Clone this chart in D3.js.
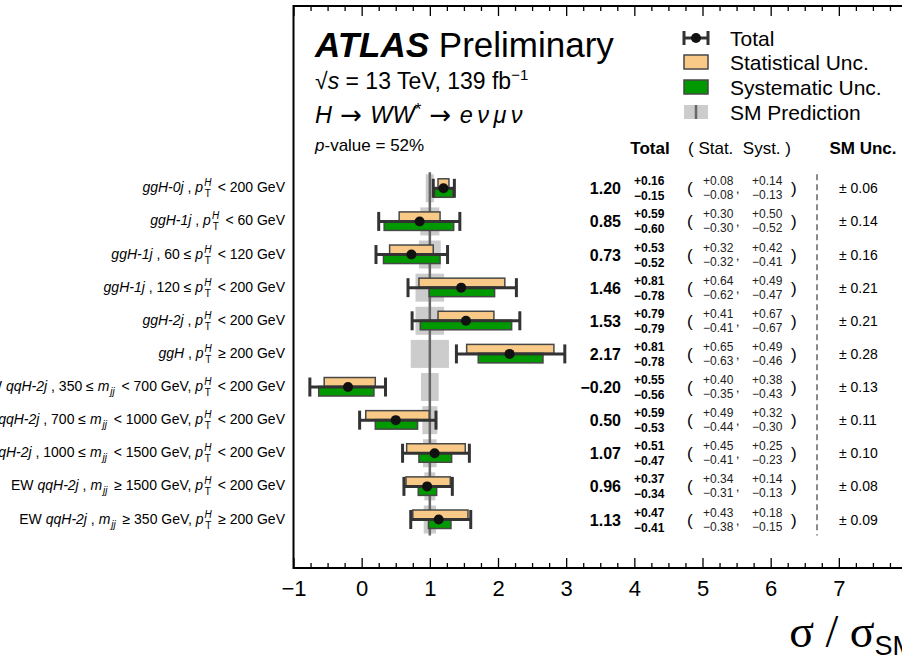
<!DOCTYPE html>
<html>
<head>
<meta charset="utf-8">
<script src="https://cdn.jsdelivr.net/npm/d3@7"></script>
<style>
  html, body { margin: 0; padding: 0; background: #fff; }
  svg { display: block; font-family: "Liberation Sans", Arial, Helvetica, sans-serif; }
</style>
</head>
<body>
<svg id="chart" width="902" height="660"></svg>
<script>
// Production-mode cross sections normalised to the SM, H -> WW* -> e nu mu nu
// Label markup: *...* italic, {pTH} = p_T^H, {mjj} = m_jj
const categories = [
  "*ggH-0j* , {pTH} < 200 GeV",
  "*ggH-1j* , {pTH} < 60 GeV",
  "*ggH-1j* , 60 ≤ {pTH} < 120 GeV",
  "*ggH-1j* , 120 ≤ {pTH} < 200 GeV",
  "*ggH-2j* , {pTH} < 200 GeV",
  "*ggH* , {pTH} ≥ 200 GeV",
  "EW *qqH-2j* , 350 ≤ {mjj} < 700 GeV, {pTH} < 200 GeV",
  "EW *qqH-2j* , 700 ≤ {mjj} < 1000 GeV, {pTH} < 200 GeV",
  "EW *qqH-2j* , 1000 ≤ {mjj} < 1500 GeV, {pTH} < 200 GeV",
  "EW *qqH-2j* , {mjj} ≥ 1500 GeV, {pTH} < 200 GeV",
  "EW *qqH-2j* , {mjj} ≥ 350 GeV, {pTH} ≥ 200 GeV"
];
const values = [1.20, 0.85, 0.73, 1.46, 1.53, 2.17, -0.20, 0.50, 1.07, 0.96, 1.13];
const totUp  = [0.16, 0.59, 0.53, 0.81, 0.79, 0.81, 0.55, 0.59, 0.51, 0.37, 0.47];
const totDn  = [0.15, 0.60, 0.52, 0.78, 0.79, 0.78, 0.56, 0.53, 0.47, 0.34, 0.41];
const statUp = [0.08, 0.30, 0.32, 0.64, 0.41, 0.65, 0.40, 0.49, 0.45, 0.34, 0.43];
const statDn = [0.08, 0.30, 0.32, 0.62, 0.41, 0.63, 0.35, 0.44, 0.41, 0.31, 0.38];
const systUp = [0.14, 0.50, 0.42, 0.49, 0.67, 0.49, 0.38, 0.32, 0.25, 0.14, 0.18];
const systDn = [0.13, 0.52, 0.41, 0.47, 0.67, 0.46, 0.43, 0.30, 0.23, 0.13, 0.15];
const smUnc  = [0.06, 0.14, 0.16, 0.21, 0.21, 0.28, 0.13, 0.11, 0.10, 0.08, 0.09];
const xTicks = [-1, 0, 1, 2, 3, 4, 5, 6, 7, 8];
const legendItems = ["Total", "Statistical Unc.", "Systematic Unc.", "SM Prediction"];

const svg = d3.select("#chart");
const frame = { left: 293.5, right: 907, top: 6, bottom: 568 };

const x = d3.scaleLinear().domain([-1, 8]).range([frame.left, frame.right]);
const y = d3.scalePoint().domain(d3.range(categories.length)).range([188.3, 519.5]);

const C = {
  stat: "#f9c987", syst: "#009900", sm: "#cccccc", smLine: "#666666",
  bar: "#333333", edge: "#474747", dot: "#111111"
};
const f2 = d3.format(".2f");

// ---------- frame and axes ----------
svg.append("rect")
  .attr("x", frame.left).attr("y", frame.top)
  .attr("width", frame.right - frame.left).attr("height", frame.bottom - frame.top)
  .attr("fill", "none").attr("stroke", "#000").attr("stroke-width", 2);

const minorVals = d3.range(-1, 8.001, 0.25).filter(v => Math.abs(v - Math.round(v)) > 1e-6);

const xAxis = d3.axisBottom(x).tickValues(xTicks).tickSizeInner(-10).tickSizeOuter(0)
  .tickPadding(12).tickFormat(d3.format("d"));
const gx = svg.append("g").attr("transform", `translate(0,${frame.bottom})`).call(xAxis);
gx.select(".domain").remove();
gx.selectAll("line").attr("stroke", "#000").attr("stroke-width", 1.3);
gx.selectAll("text").attr("font-size", 22).attr("fill", "#000")
  .attr("font-family", "Liberation Sans, Arial, sans-serif");

const gxMinor = svg.append("g").attr("transform", `translate(0,${frame.bottom})`)
  .call(d3.axisBottom(x).tickValues(minorVals).tickSizeInner(-5).tickSizeOuter(0).tickFormat(""));
gxMinor.select(".domain").remove();
gxMinor.selectAll("line").attr("stroke", "#000").attr("stroke-width", 1.3);

const gTop = svg.append("g").attr("transform", `translate(0,${frame.top})`)
  .call(d3.axisTop(x).tickValues(xTicks).tickSizeInner(-10).tickSizeOuter(0).tickFormat(""));
gTop.select(".domain").remove();
gTop.selectAll("line").attr("stroke", "#000").attr("stroke-width", 1.3);
const gTopMinor = svg.append("g").attr("transform", `translate(0,${frame.top})`)
  .call(d3.axisTop(x).tickValues(minorVals).tickSizeInner(-5).tickSizeOuter(0).tickFormat(""));
gTopMinor.select(".domain").remove();
gTopMinor.selectAll("line").attr("stroke", "#000").attr("stroke-width", 1.3);

// axis title  sigma / sigma_SM
const title = svg.append("text").attr("x", 915).attr("y", 647)
  .attr("text-anchor", "end").attr("fill", "#000").attr("xml:space", "preserve");
title.append("tspan").attr("font-family", "Liberation Serif, Times New Roman, serif")
  .attr("font-size", 46).text("σ / σ");
title.append("tspan").attr("font-size", 27).attr("dy", 8).text("SM");

// ---------- rich text for category labels ----------
function richLabel(textSel, markup, size) {
  const sub = Math.round(size * 0.72);
  const parts = markup.split(/(\*[^*]+\*|\{pTH\}|\{mjj\})/).filter(s => s.length);
  parts.forEach(p => {
    if (p.startsWith("*")) {
      textSel.append("tspan").attr("font-style", "italic").text(p.slice(1, -1));
    } else if (p === "{pTH}") {
      textSel.append("tspan").attr("font-style", "italic").text("p");
      textSel.append("tspan").attr("font-style", "italic").attr("font-size", sub)
        .attr("dx", 1).attr("dy", -6).text("H");
      textSel.append("tspan").attr("font-size", sub).attr("dx", -6.5)
        .attr("dy", 11).text("T");
      textSel.append("tspan").attr("dy", -5).text("\u2009");
    } else if (p === "{mjj}") {
      textSel.append("tspan").attr("font-style", "italic").text("m");
      textSel.append("tspan").attr("font-style", "italic").attr("font-size", sub)
        .attr("dx", 1).attr("dy", 4).text("jj");
      textSel.append("tspan").attr("dy", -4).text("\u2009");
    } else {
      textSel.append("tspan").text(p);
    }
  });
}

const labels = svg.append("g");
categories.forEach((c, i) => {
  const t = labels.append("text").attr("x", 285).attr("y", y(i) + 4)
    .attr("text-anchor", "end").attr("font-size", 14).attr("fill", "#000")
    .attr("xml:space", "preserve");
  richLabel(t, c, 14);
});

// ---------- SM prediction band ----------
const idx = d3.range(categories.length);
svg.append("g").selectAll("rect").data(idx).join("rect")
  .attr("x", i => x(1 - smUnc[i])).attr("width", i => x(1 + smUnc[i]) - x(1 - smUnc[i]))
  .attr("y", i => y(i) - 14).attr("height", 28).attr("fill", C.sm);
svg.append("line")
  .attr("x1", x(1)).attr("x2", x(1))
  .attr("y1", y(0) - 16).attr("y2", y(categories.length - 1) + 16)
  .attr("stroke", C.smLine).attr("stroke-width", 2.5);

// ---------- measurement marks ----------
const marks = svg.append("g");
marks.selectAll("rect.stat").data(idx).join("rect").attr("class", "stat")
  .attr("x", i => x(values[i] - statDn[i]))
  .attr("width", i => x(values[i] + statUp[i]) - x(values[i] - statDn[i]))
  .attr("y", i => y(i) - 9.5).attr("height", 9)
  .attr("fill", C.stat).attr("stroke", C.edge).attr("stroke-width", 1.5);
marks.selectAll("rect.syst").data(idx).join("rect").attr("class", "syst")
  .attr("x", i => x(values[i] - systDn[i]))
  .attr("width", i => x(values[i] + systUp[i]) - x(values[i] - systDn[i]))
  .attr("y", i => y(i) - 0.5).attr("height", 9.5)
  .attr("fill", C.syst).attr("stroke", C.edge).attr("stroke-width", 1.5);
marks.selectAll("line.tot").data(idx).join("line").attr("class", "tot")
  .attr("x1", i => x(values[i] - totDn[i])).attr("x2", i => x(values[i] + totUp[i]))
  .attr("y1", i => y(i)).attr("y2", i => y(i))
  .attr("stroke", C.bar).attr("stroke-width", 3);
["lo", "hi"].forEach(side => {
  marks.selectAll("line.cap-" + side).data(idx).join("line").attr("class", "cap-" + side)
    .attr("x1", i => side === "lo" ? x(values[i] - totDn[i]) : x(values[i] + totUp[i]))
    .attr("x2", i => side === "lo" ? x(values[i] - totDn[i]) : x(values[i] + totUp[i]))
    .attr("y1", i => y(i) - 9.5).attr("y2", i => y(i) + 9.5)
    .attr("stroke", C.bar).attr("stroke-width", 3);
});
marks.selectAll("circle").data(idx).join("circle")
  .attr("cx", i => x(values[i])).attr("cy", i => y(i)).attr("r", 5).attr("fill", C.dot);

// ---------- numerical table ----------
const hdrY = 154;
svg.append("text").attr("x", 650).attr("y", hdrY).attr("text-anchor", "middle")
  .attr("font-size", 17).attr("font-weight", "bold").text("Total");
svg.append("text").attr("x", 688).attr("y", hdrY).attr("font-size", 17)
  .attr("xml:space", "preserve").text("( Stat.  Syst. )");
svg.append("text").attr("x", 863).attr("y", hdrY).attr("text-anchor", "middle")
  .attr("font-size", 17).attr("font-weight", "bold").text("SM Unc.");

const table = svg.append("g");
idx.forEach(i => {
  const c = y(i);
  table.append("text").attr("x", 621).attr("y", c + 6).attr("text-anchor", "end")
    .attr("font-size", 16).attr("font-weight", "bold").text(f2(values[i]));
  table.append("text").attr("x", 634).attr("y", c - 3).attr("font-size", 12)
    .attr("font-weight", "bold").text("+" + f2(totUp[i]));
  table.append("text").attr("x", 634).attr("y", c + 12).attr("font-size", 12)
    .attr("font-weight", "bold").text("\u2212" + f2(totDn[i]));
  table.append("text").attr("x", 687).attr("y", c + 6).attr("font-size", 17).text("(");
  table.append("text").attr("x", 703).attr("y", c - 3).attr("font-size", 12)
    .attr("fill", "#222").text("+" + f2(statUp[i]));
  table.append("text").attr("x", 703).attr("y", c + 11).attr("font-size", 12)
    .attr("fill", "#222").text("\u2212" + f2(statDn[i]));
  table.append("text").attr("x", 736).attr("y", c + 5).attr("font-size", 12).text(",");
  table.append("text").attr("x", 752).attr("y", c - 3).attr("font-size", 12)
    .attr("fill", "#222").text("+" + f2(systUp[i]));
  table.append("text").attr("x", 752).attr("y", c + 11).attr("font-size", 12)
    .attr("fill", "#222").text("\u2212" + f2(systDn[i]));
  table.append("text").attr("x", 791).attr("y", c + 6).attr("font-size", 17).text(")");
  table.append("text").attr("x", 839).attr("y", c + 5).attr("font-size", 14)
    .text("\u00B1 " + f2(smUnc[i]));
});
svg.append("line").attr("x1", 817).attr("x2", 817)
  .attr("y1", y(0) - 14).attr("y2", y(categories.length - 1) + 16)
  .attr("stroke", "#666").attr("stroke-width", 1.5).attr("stroke-dasharray", "6,4");

// ---------- ATLAS label block ----------
const atlas = svg.append("text").attr("x", 315).attr("y", 57).attr("font-size", 35);
atlas.append("tspan").attr("font-weight", "bold").attr("font-style", "italic").text("ATLAS");
atlas.append("tspan").text(" Preliminary");

const energy = svg.append("text").attr("x", 315).attr("y", 89).attr("font-size", 23);
energy.append("tspan").text("√");
energy.append("tspan").attr("font-style", "italic").text("s");
energy.append("tspan").text(" = 13 TeV, 139 fb");
energy.append("tspan").attr("font-size", 15).attr("dy", -9).text("\u22121");

const decay = svg.append("text").attr("x", 315).attr("y", 123).attr("font-size", 23.5)
  .attr("xml:space", "preserve");
decay.append("tspan").attr("font-style", "italic").text("H");
decay.append("tspan").attr("font-family", "DejaVu Sans, sans-serif").attr("font-size", 26)
  .attr("dy", 1).text(" → ");
decay.append("tspan").attr("font-style", "italic").attr("dy", -1).text("WW");
decay.append("tspan").attr("font-size", 17).attr("dy", -8).text("*");
decay.append("tspan").attr("dy", 9).attr("font-family", "DejaVu Sans, sans-serif")
  .attr("font-size", 26).text(" → ");
decay.append("tspan").attr("font-style", "italic").attr("dy", -1).attr("letter-spacing", 4.5)
  .text("eνμν");

const pval = svg.append("text").attr("x", 315).attr("y", 151).attr("font-size", 17);
pval.append("tspan").attr("font-style", "italic").text("p");
pval.append("tspan").text("-value = 52%");

// ---------- legend ----------
const lg = svg.append("g");
const lgY = [38, 62, 87, 112], lx0 = 684, lx1 = 708, lxm = (lx0 + lx1) / 2;
legendItems.forEach((name, k) => {
  lg.append("text").attr("x", 730).attr("y", lgY[k] + 7.5).attr("font-size", 21).text(name);
});
lg.append("line").attr("x1", lx0).attr("x2", lx1).attr("y1", lgY[0]).attr("y2", lgY[0])
  .attr("stroke", C.bar).attr("stroke-width", 3);
[lx0, lx1].forEach(xx => lg.append("line").attr("x1", xx).attr("x2", xx)
  .attr("y1", lgY[0] - 7).attr("y2", lgY[0] + 7).attr("stroke", C.bar).attr("stroke-width", 3));
lg.append("circle").attr("cx", lxm).attr("cy", lgY[0]).attr("r", 5).attr("fill", C.dot);
lg.append("rect").attr("x", lx0).attr("y", lgY[1] - 7).attr("width", lx1 - lx0).attr("height", 14)
  .attr("fill", C.stat).attr("stroke", C.edge).attr("stroke-width", 1.5);
lg.append("rect").attr("x", lx0).attr("y", lgY[2] - 7).attr("width", lx1 - lx0).attr("height", 14)
  .attr("fill", C.syst).attr("stroke", C.edge).attr("stroke-width", 1.5);
lg.append("rect").attr("x", lx0).attr("y", lgY[3] - 7).attr("width", lx1 - lx0).attr("height", 14)
  .attr("fill", C.sm);
lg.append("line").attr("x1", lxm).attr("x2", lxm).attr("y1", lgY[3] - 7).attr("y2", lgY[3] + 7)
  .attr("stroke", C.smLine).attr("stroke-width", 2.5);
</script>
</body>
</html>
